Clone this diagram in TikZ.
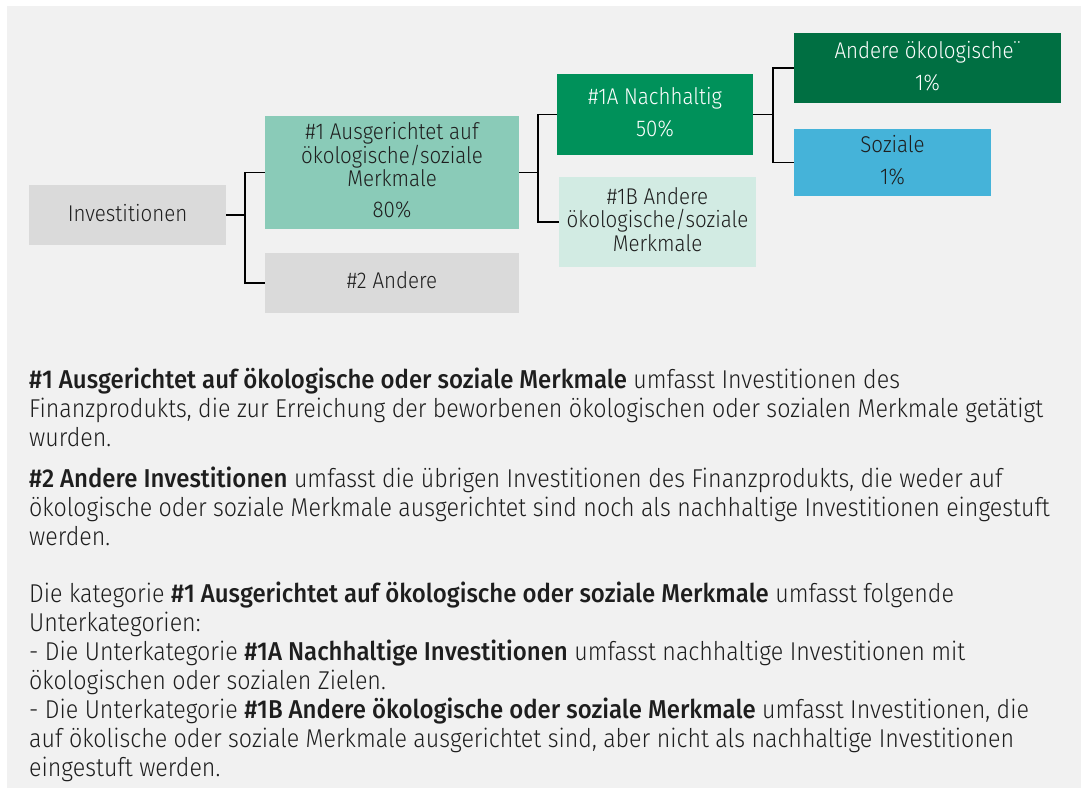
\documentclass[tikz,border=0pt]{standalone}
\usepackage{fontspec}
\setmainfont{Fira Sans}[UprightFont={* Light},BoldFont={* Medium},FakeStretch=0.9,
  BoldFeatures={FakeStretch=0.93}]
\usepackage{xcolor}
\usepackage{tikz}
\usetikzlibrary{positioning}

\definecolor{bgpanel}{HTML}{F1F1F1}
\definecolor{boxgray}{HTML}{DADADA}
\definecolor{esgmid}{HTML}{8ACBB8}
\definecolor{esgdark}{HTML}{00915A}
\definecolor{esgdeep}{HTML}{006F42}
\definecolor{esglight}{HTML}{D2EBE3}
\definecolor{socblue}{HTML}{45B3D9}
\definecolor{inktext}{HTML}{1E1E1E}

\tikzset{
  catbox/.style={inner sep=0pt, align=center, text=inktext, text depth=5pt,
    font=\fontsize{22.8}{23.5}\selectfont},
  link/.style={line width=1.8pt, black},
  bodytext/.style={anchor=base west, inner sep=0pt, align=left, text=inktext,
    font=\fontsize{25.8}{29}\selectfont}
}

\begin{document}
\begin{tikzpicture}[x=1pt, y=-1pt]
  \useasboundingbox (0,0) rectangle (1081,794);
  \fill[bgpanel] (7,6) rectangle (1081,788);

  % tree of categories
  \node[catbox, fill=boxgray, minimum width=197, minimum height=60] (inv) at (127.5,215) {Investitionen};
  \node[catbox, fill=esgmid, minimum width=254, minimum height=113] (m1) at (392,172.5)
    {\#1 Ausgerichtet auf\\ökologische/soziale\\Merkmale\\[7pt]80\%};
  \node[catbox, fill=boxgray, minimum width=254, minimum height=60] (m2) at (392,283) {\#2 Andere};
  \node[catbox, fill=esgdark, text=white, minimum width=196, minimum height=81] (n1a) at (655,114.5)
    {\#1A Nachhaltig\\[8.5pt]50\%};
  \node[catbox, fill=esglight, minimum width=197, minimum height=90] (n1b) at (657.5,222)
    {\#1B Andere\\ökologische/soziale\\Merkmale};
  \node[catbox, fill=esgdeep, text=white, minimum width=267, minimum height=70] (oeko) at (927.5,68)
    {Andere ökologische¨\\[8.5pt]1\%};
  \node[catbox, fill=socblue, minimum width=197, minimum height=67] (soz) at (892.5,162.5)
    {Soziale\\[8.5pt]1\%};

  \draw[link] (inv.east) -- ++(19,0) |- (m1.west);
  \draw[link] (inv.east) -- ++(19,0) |- (m2.west);
  \draw[link] (m1.east) -- ++(19,0) |- (n1a.west);
  \draw[link] (m1.east) -- ++(19,0) |- (n1b.west);
  \draw[link] (n1a.east) -- ++(20,0) |- (oeko.west);
  \draw[link] (n1a.east) -- ++(20,0) |- (soz.west);

  % explanations (anchored at the baseline of the last line)
  \node[bodytext] (para1) at (29,446)
    {\textbf{\#1 Ausgerichtet auf ökologische oder soziale Merkmale} umfasst Investitionen des\\
     Finanzprodukts, die zur Erreichung der beworbenen ökologischen oder sozialen Merkmale getätigt\\
     wurden.};
  \node[bodytext] (para2) at (29,545)
    {\textbf{\#2 Andere Investitionen} umfasst die übrigen Investitionen des Finanzprodukts, die weder auf\\
     ökologische oder soziale Merkmale ausgerichtet sind noch als nachhaltige Investitionen eingestuft\\
     werden.};
  \node[bodytext] (para3) at (29,776.5)
    {Die kategorie \textbf{\#1 Ausgerichtet auf ökologische oder soziale Merkmale} umfasst folgende\\
     Unterkategorien:\\
     - Die Unterkategorie \textbf{\#1A Nachhaltige Investitionen} umfasst nachhaltige Investitionen mit\\
     ökologischen oder sozialen Zielen.\\
     - Die Unterkategorie \textbf{\#1B Andere ökologische oder soziale Merkmale} umfasst Investitionen, die\\
     auf ökolische oder soziale Merkmale ausgerichtet sind, aber nicht als nachhaltige Investitionen\\
     eingestuft werden.};
\end{tikzpicture}
\end{document}
